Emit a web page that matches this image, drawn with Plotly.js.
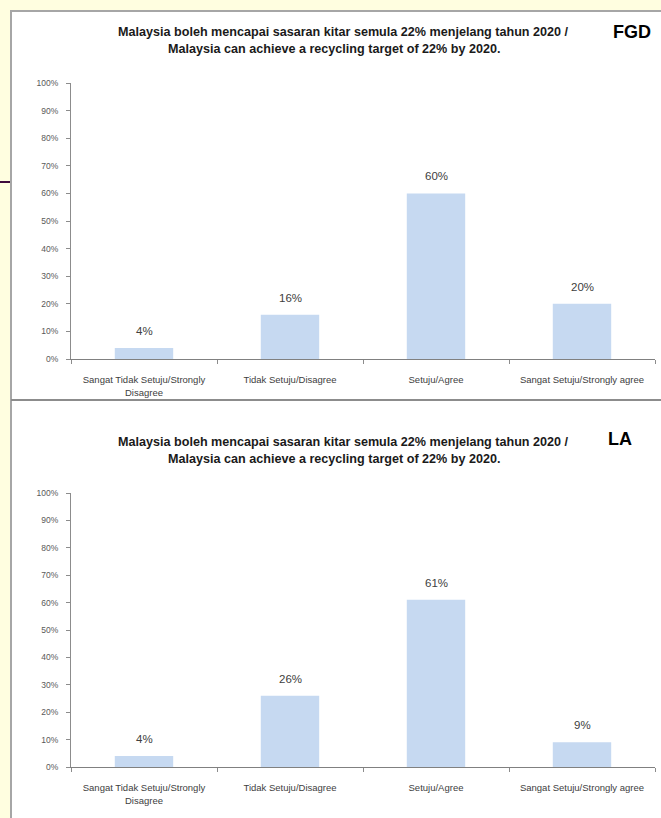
<!DOCTYPE html>
<html>
<head>
<meta charset="utf-8">
<script src="https://cdn.plot.ly/plotly-3.0.1.min.js"></script>
<style>html,body{margin:0;padding:0;background:#fffee0;}#chart{width:661px;height:818px;}</style>
</head>
<body>
<div id="chart"></div>
<script>
const categories = [
  "Sangat Tidak Setuju/Strongly<br>Disagree",
  "Tidak Setuju/Disagree",
  "Setuju/Agree",
  "Sangat Setuju/Strongly agree"
];
const fgdValues = [0.04, 0.16, 0.60, 0.20];
const laValues = [0.04, 0.26, 0.61, 0.09];
const titleLine1 = "Malaysia boleh mencapai sasaran kitar semula 22% menjelang tahun 2020 /";
const titleLine2 = "Malaysia can achieve a recycling target of 22% by 2020.";
const panelLabels = ["FGD", "LA"];
const yTicks = [0, 0.1, 0.2, 0.3, 0.4, 0.5, 0.6, 0.7, 0.8, 0.9, 1.0];

const W = 661, H = 818;
const px = v => v / W;
const py = v => 1 - v / H;
const barColor = "#c6d9f1";
const txtFont = "Liberation Sans, Arial, sans-serif";

const traces = [
  {type: "bar", x: categories, y: fgdValues, xaxis: "x", yaxis: "y", marker: {color: barColor}, hoverinfo: "none"},
  {type: "bar", x: categories, y: laValues, xaxis: "x2", yaxis: "y2", marker: {color: barColor}, hoverinfo: "none"}
];

function yAxis(dom, anchor) {
  return {
    domain: dom, anchor: anchor, range: [0, 1], tickvals: yTicks, tickformat: ".0%",
    showgrid: false, zeroline: false, showline: true, linecolor: "#8c8c8c", linewidth: 1,
    ticks: "outside", ticklen: 4, tickcolor: "#8c8c8c", ticklabelstandoff: 6,
    tickfont: {family: txtFont, size: 8.5, color: "#595959"}, fixedrange: true
  };
}
function xAxis(anchor) {
  return {
    domain: [px(71), px(655)], anchor: anchor, type: "category",
    showgrid: false, zeroline: false, showline: true, linecolor: "#808080", linewidth: 1,
    ticks: "outside", tickson: "boundaries", ticklen: 4, tickcolor: "#8c8c8c", ticklabelstandoff: 12,
    tickfont: {family: txtFont, size: 9.5, color: "#404040"}, fixedrange: true
  };
}

const annotations = [];
function addLabels(vals, xr, yr) {
  vals.forEach((v, i) => {
    annotations.push({x: categories[i], y: v, xref: xr, yref: yr, text: Math.round(v * 100) + "%",
      showarrow: false, xanchor: "center", yanchor: "middle", yshift: 17,
      font: {family: txtFont, size: 11.5, color: "#404040"}});
  });
}
addLabels(fgdValues, "x", "y");
addLabels(laValues, "x2", "y2");

function addTitle(yTop, label, labelX, labelY) {
  const tf = {family: txtFont, size: 12.6, color: "#1a1a1a", weight: "bold"};
  annotations.push({xref: "paper", yref: "paper", x: px(343), y: py(yTop), xanchor: "center", yanchor: "middle",
    text: titleLine1, showarrow: false, font: tf});
  annotations.push({xref: "paper", yref: "paper", x: px(335), y: py(yTop + 17), xanchor: "center", yanchor: "middle",
    text: titleLine2, showarrow: false, font: tf});
  annotations.push({xref: "paper", yref: "paper", x: px(labelX), y: py(labelY), xanchor: "center", yanchor: "middle",
    text: label, showarrow: false, font: {family: "Liberation Sans, Arial, sans-serif", size: 18, color: "#000", weight: "bold"}});
}
addTitle(32, panelLabels[0], 632, 32);
addTitle(442, panelLabels[1], 620, 439);

const shapes = [
  {type: "rect", xref: "paper", yref: "paper", x0: px(11), x1: px(700), y0: py(11), y1: py(900),
   fillcolor: "#ffffff", line: {width: 0}, layer: "below"},
  {type: "line", xref: "paper", yref: "paper", x0: px(11), x1: px(11), y0: py(10), y1: py(818),
   line: {color: "#a6a6a6", width: 2}, layer: "below"},
  {type: "line", xref: "paper", yref: "paper", x0: px(10), x1: px(661), y0: py(11), y1: py(11),
   line: {color: "#a6a6a6", width: 2}, layer: "below"},
  {type: "line", xref: "paper", yref: "paper", x0: px(11), x1: px(661), y0: py(400), y1: py(400),
   line: {color: "#8c8c8c", width: 2}, layer: "below"},
  {type: "line", xref: "paper", yref: "paper", x0: px(0), x1: px(10), y0: py(182), y1: py(182),
   line: {color: "#3f0a3c", width: 2}, layer: "below"}
];

const layout = {
  width: W, height: H, margin: {l: 0, r: 0, t: 0, b: 0},
  paper_bgcolor: "#fffee0", plot_bgcolor: "rgba(0,0,0,0)",
  showlegend: false, bargap: 0.6,
  xaxis: xAxis("y"), yaxis: yAxis([py(359), py(83)], "x"),
  xaxis2: xAxis("y2"), yaxis2: yAxis([py(767), py(493)], "x2"),
  annotations: annotations, shapes: shapes
};

Plotly.newPlot("chart", traces, layout, {displayModeBar: false, staticPlot: true});
</script>
</body>
</html>
